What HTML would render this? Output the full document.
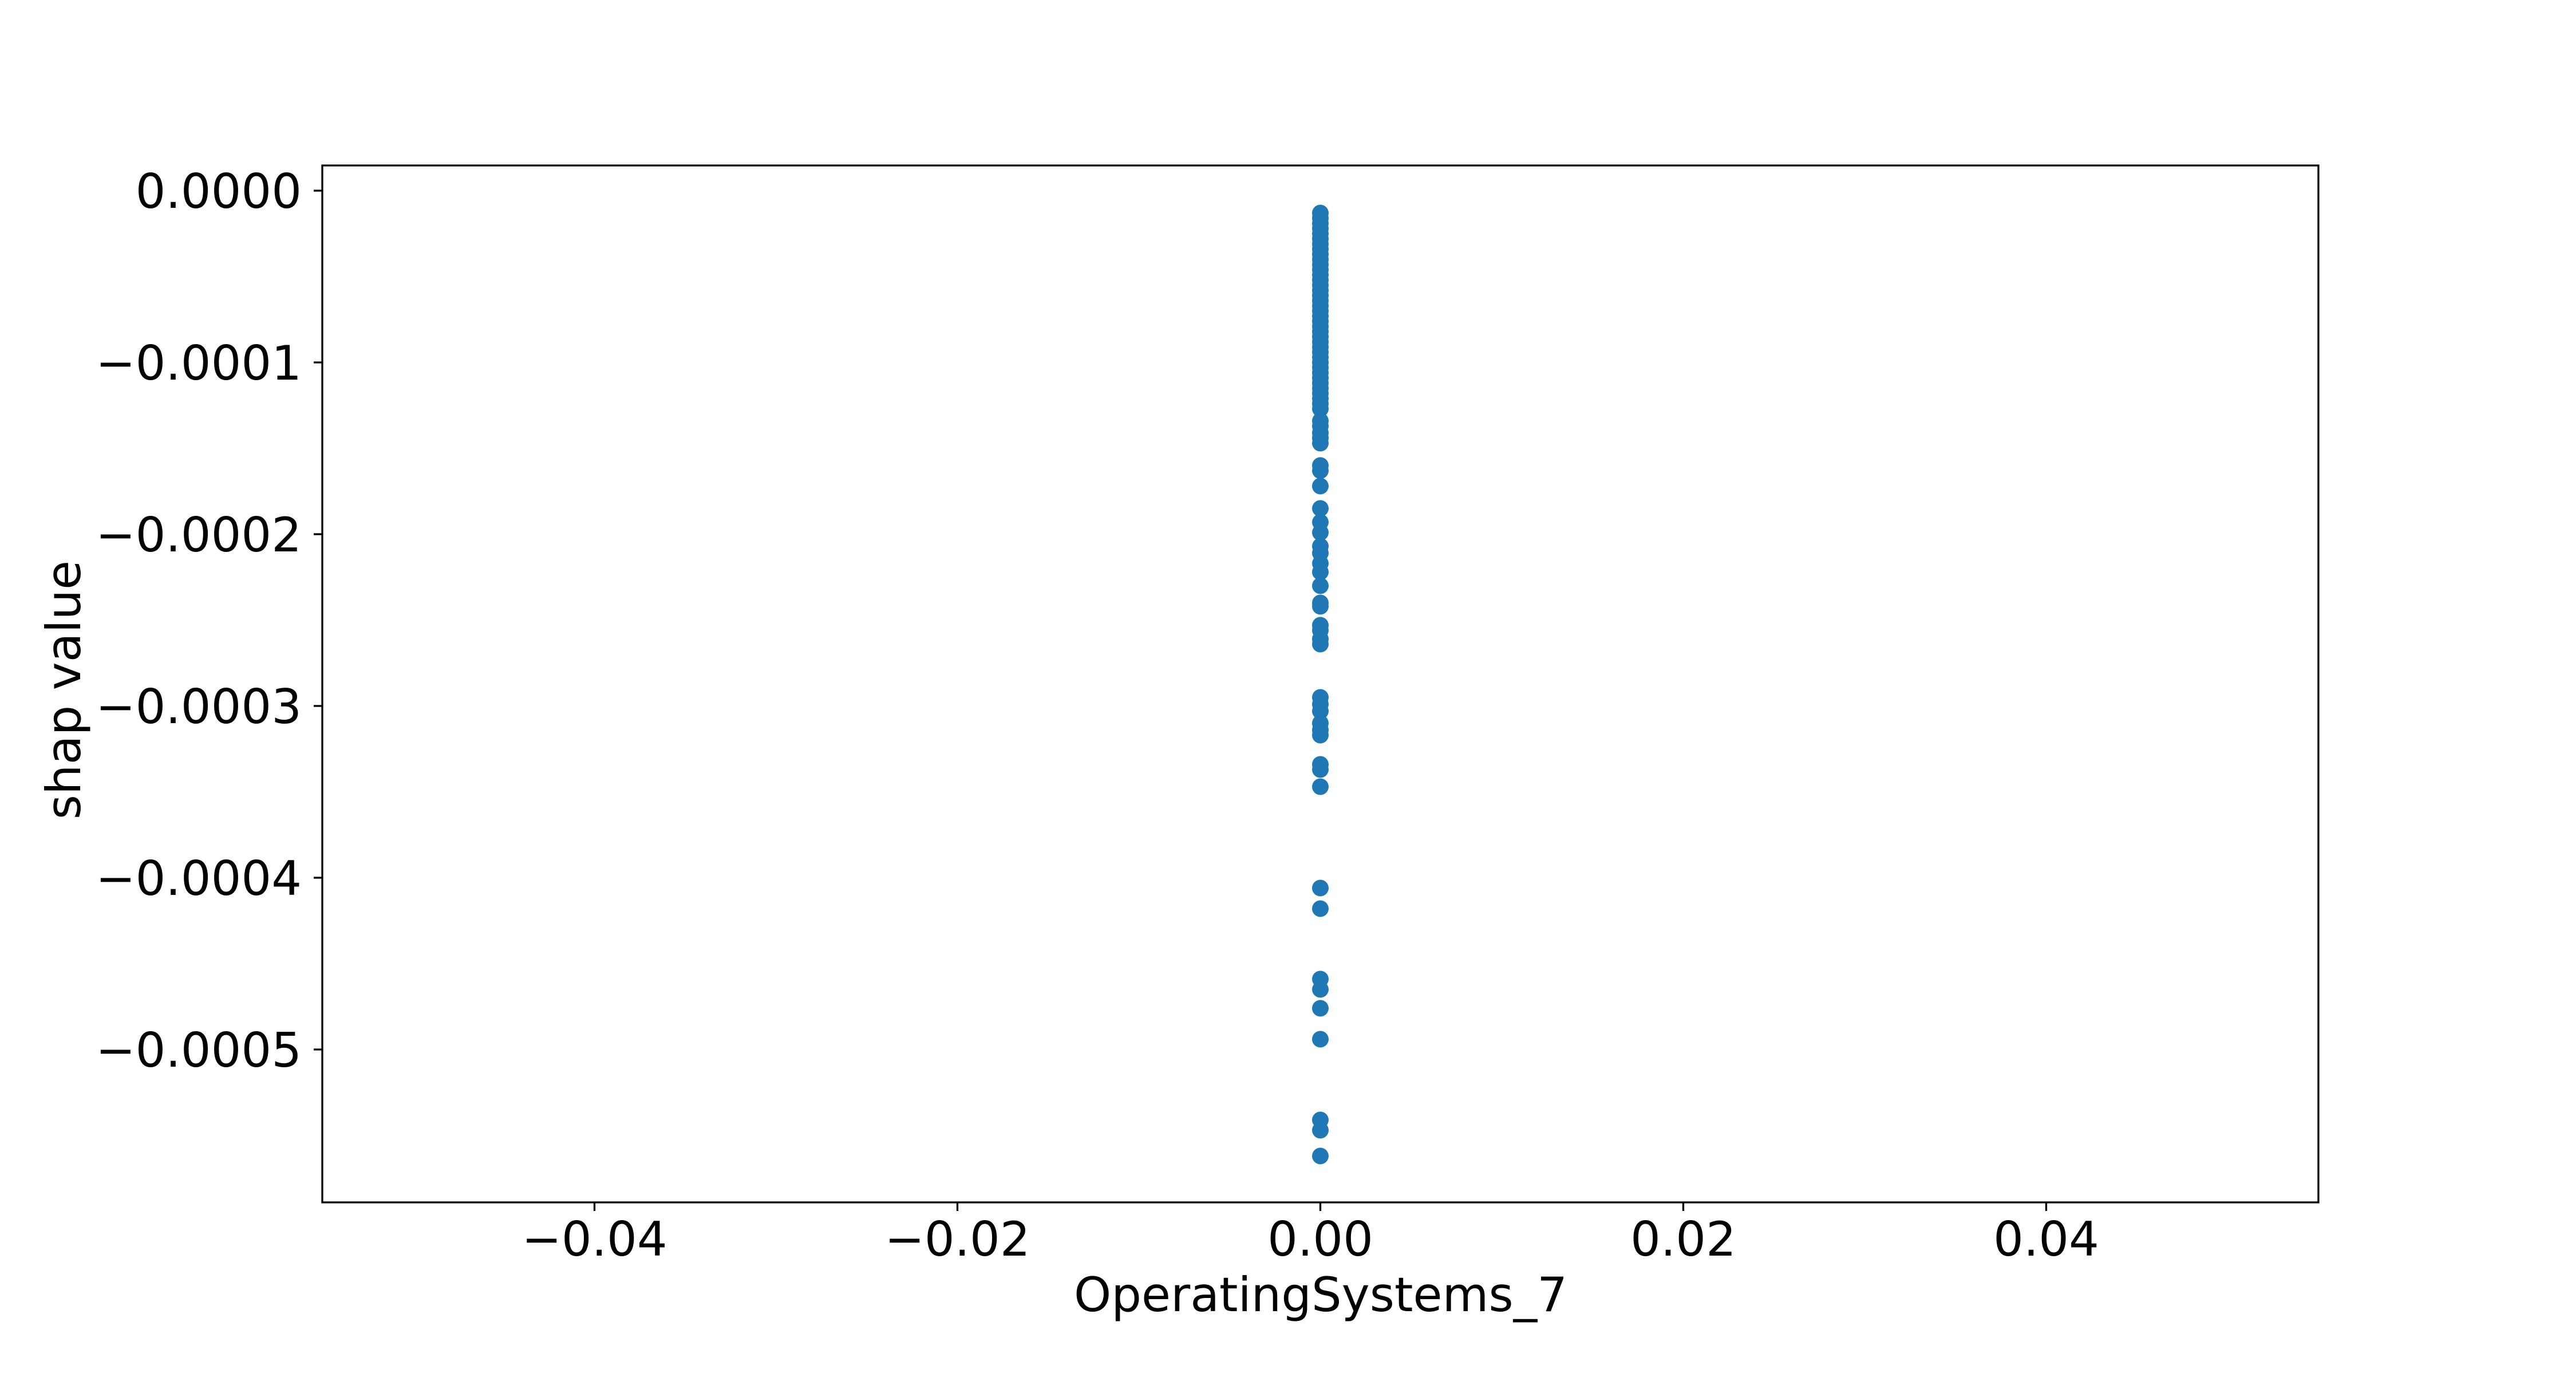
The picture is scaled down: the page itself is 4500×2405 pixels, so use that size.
<!DOCTYPE html>
<html><head><meta charset="utf-8"><style>
html,body{margin:0;padding:0;background:#fff;}
svg text{font-family:"DejaVu Sans","Liberation Sans",sans-serif;fill:#000;}
</style></head><body>
<svg id="chart" width="4500" height="2400" xmlns="http://www.w3.org/2000/svg">
<rect width="4500" height="2400" fill="#fff"/>
<g id="marks"></g>
<g id="axes"></g>
</svg>
<script>
const xTicks = [-0.04, -0.02, 0.00, 0.02, 0.04];
const xTickLabels = ["\u22120.04", "\u22120.02", "0.00", "0.02", "0.04"];
const yTicks = [0, -0.0001, -0.0002, -0.0003, -0.0004, -0.0005];
const yTickLabels = ["0.0000", "\u22120.0001", "\u22120.0002", "\u22120.0003", "\u22120.0004", "\u22120.0005"];
const featureValues = 0;
const shapValuesE4 = [-0.13,-0.16,-0.19,-0.22,-0.25,-0.28,-0.31,-0.34,-0.37,-0.40,-0.43,-0.46,-0.49,-0.52,-0.55,-0.58,-0.61,-0.64,-0.67,-0.70,-0.73,-0.76,-0.79,-0.82,-0.85,-0.88,-0.91,-0.94,-0.97,-1.00,-1.03,-1.06,-1.09,-1.12,-1.15,-1.18,-1.21,-1.24,-1.27,
-1.34,-1.37,-1.41,-1.44,-1.47,-1.60,-1.63,-1.72,-1.85,-1.93,-1.99,-2.07,-2.11,-2.17,-2.22,-2.30,-2.40,-2.42,-2.53,-2.56,-2.61,-2.64,-2.95,-2.99,-3.03,-3.10,-3.14,-3.17,-3.34,-3.37,-3.47,-4.06,-4.18,-4.59,-4.65,-4.76,-4.94,-5.41,-5.47,-5.62];

const L=563, R=4050, T=289, B=2100;
const xMin=-0.055, xMax=0.055;
const y0Pix=333, pxPer1e4=300;
function xs(v){return L+(v-xMin)/(xMax-xMin)*(R-L);}
function ys(v){return y0Pix - v*1e4*pxPer1e4;}
const NS="http://www.w3.org/2000/svg";
const marks=document.getElementById('marks');
shapValuesE4.forEach(function(v,i){
  const c=document.createElementNS(NS,'circle');
  c.setAttribute('cx',xs(featureValues));
  c.setAttribute('cy',ys(v*1e-4));
  c.setAttribute('r',14.5);
  c.setAttribute('fill','#1f77b4');
  
  
  marks.appendChild(c);
});
const axes=document.getElementById('axes');
function el(tag,attrs,text){const e=document.createElementNS(NS,tag);for(const k in attrs)e.setAttribute(k,attrs[k]);if(text!==undefined)e.textContent=text;axes.appendChild(e);return e;}
const frame=el('rect',{x:L,y:T,width:R-L,height:B-T,fill:'none',stroke:'#000','stroke-width':3.3});


xTicks.forEach(function(v,i){
  const x=xs(v);
  const t=el('line',{x1:x,x2:x,y1:B,y2:B+15,stroke:'#000','stroke-width':3.3});
  
  
  const lb=el('text',{x:x,y:2193,'font-size':83,'text-anchor':'middle'},xTickLabels[i]);
  
  
});
yTicks.forEach(function(v,i){
  const y=ys(v);
  const t=el('line',{x1:L-15,x2:L,y1:y,y2:y,stroke:'#000','stroke-width':3.3});
  
  
  const lb=el('text',{x:527,y:y+30,'font-size':83,'text-anchor':'end'},yTickLabels[i]);
  
  
});
const xl=el('text',{x:2307,y:2290,'font-size':83,'text-anchor':'middle'},'OperatingSystems_7');


const yl=el('text',{x:0,y:0,'font-size':83,'text-anchor':'middle',transform:'translate(140,1205) rotate(-90)'},'shap value');


</script>
</body></html>
